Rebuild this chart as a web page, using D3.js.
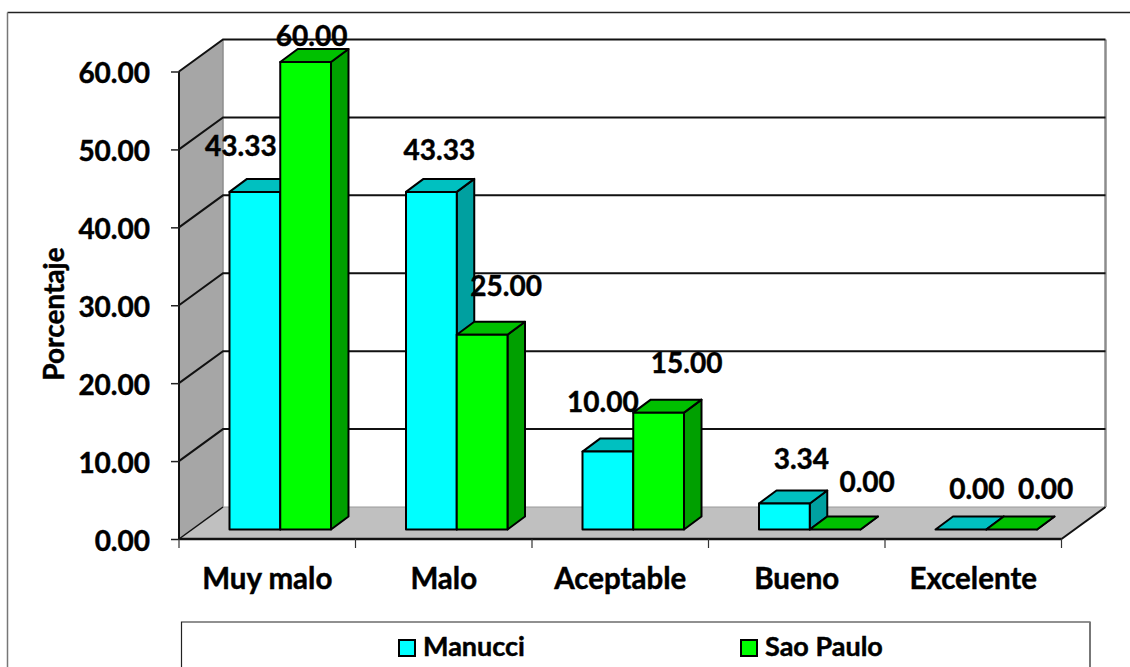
<!DOCTYPE html>
<html>
<head>
<meta charset="utf-8">
<script src="https://cdnjs.cloudflare.com/ajax/libs/d3/7.8.5/d3.min.js"></script>
<style>
  html, body { margin: 0; padding: 0; background: #fff; }
  svg { display: block; }
  text { font-family: Lato, "Noto Sans", sans-serif; font-weight: 700; fill: #000; stroke: #000; stroke-width: 0.45px; }
</style>
</head>
<body>
<svg id="chart" width="1130" height="667"></svg>
<script>
const categories = ["Muy malo", "Malo", "Aceptable", "Bueno", "Excelente"];
const seriesNames = ["Manucci", "Sao Paulo"];
const manucci = [43.33, 43.33, 10.00, 3.34, 0.00];
const saoPaulo = [60.00, 25.00, 15.00, 0.00, 0.00];
const yTicks = [0, 10, 20, 30, 40, 50, 60];

// Data labels were placed by hand around the bars: nudges from each bar's top centre.
const manucciNudge = [[-14, -36], [8, -32], [-5, -40], [17, -34], [16, -31]];
const saoPauloNudge = [[6, -16], [24, -39], [28, -40], [32, -38], [34, -31]];

const palette = {
  Manucci: { front: "#00ffff", top: "#00c0c0", side: "#00a0a0" },
  "Sao Paulo": { front: "#00ff00", top: "#00c000", side: "#00a000" }
};

const svg = d3.select("#chart");
const ink = "#111";

// Pseudo-3D plot box: front plane, and the shift to the back wall.
const plot = { left: 179, right: 1061.5, bottom: 539, top: 71.5 };
const depth = { x: 44, y: -32 };
const barDepth = { x: 17.5, y: -13 };
const barFloorY = 529.5;

const x = d3.scaleBand().domain(categories).range([plot.left, plot.right]);
const y = d3.scaleLinear().domain([0, 60]).range([plot.bottom, plot.top]);
const inner = d3.scaleBand().domain(seriesNames).range([50.5, 152]);
const barHeight = v => y(0) - y(v);

const poly = pts => pts.map(p => p.join(",")).join(" ");

// Outer frame: only the top and left edges are visible.
svg.append("line").attr("x1", 7.5).attr("x2", 1130).attr("y1", 12.5).attr("y2", 12.5)
  .attr("stroke", "#222").attr("stroke-width", 1.5);
svg.append("line").attr("x1", 7.5).attr("x2", 7.5).attr("y1", 12.5).attr("y2", 667)
  .attr("stroke", "#777").attr("stroke-width", 1.5);

// Side wall and floor
const wallTop = y(60), wallBot = y(0);
svg.append("polygon")
  .attr("points", poly([[plot.left, wallTop], [plot.left + depth.x, wallTop + depth.y],
                        [plot.left + depth.x, wallBot + depth.y], [plot.left, wallBot]]))
  .attr("fill", "#a6a6a6");
svg.append("polygon")
  .attr("points", poly([[plot.left, wallBot], [plot.left + depth.x, wallBot + depth.y],
                        [plot.right + depth.x, wallBot + depth.y], [plot.right, wallBot]]))
  .attr("fill", "#c0c0c0");

// Back-wall edges
svg.append("line")
  .attr("x1", plot.left + depth.x).attr("x2", plot.left + depth.x)
  .attr("y1", wallTop + depth.y).attr("y2", wallBot + depth.y)
  .attr("stroke", "#8c8c8c").attr("stroke-width", 1.5);
svg.append("line")
  .attr("x1", plot.right + depth.x).attr("x2", plot.right + depth.x)
  .attr("y1", wallTop + depth.y).attr("y2", wallBot + depth.y)
  .attr("stroke", "#8c8c8c").attr("stroke-width", 2.5);
svg.append("line")
  .attr("x1", plot.left + depth.x).attr("x2", plot.right + depth.x)
  .attr("y1", wallBot + depth.y).attr("y2", wallBot + depth.y)
  .attr("stroke", "#9a9a9a").attr("stroke-width", 1);

// Gridlines run along the back wall and slant down the side wall.
const grid = svg.append("g").attr("fill", "none").attr("stroke", ink).attr("stroke-width", 2);
grid.selectAll("polyline.g").data(yTicks.filter(t => t > 0)).join("polyline")
  .attr("class", "g")
  .attr("points", t => poly([[plot.left, y(t)], [plot.left + depth.x, y(t) + depth.y],
                             [plot.right + depth.x, y(t) + depth.y]]));
grid.append("line")
  .attr("x1", plot.left).attr("y1", y(0))
  .attr("x2", plot.left + depth.x).attr("y2", y(0) + depth.y)
  .attr("stroke-width", 1.5);

// Axes on the front plane
svg.append("line").attr("x1", plot.left).attr("x2", plot.left)
  .attr("y1", y(60)).attr("y2", y(0)).attr("stroke", ink).attr("stroke-width", 2);
svg.append("line").attr("x1", plot.left).attr("x2", plot.right)
  .attr("y1", y(0)).attr("y2", y(0)).attr("stroke", ink).attr("stroke-width", 2.5);
svg.append("line").attr("x1", plot.right).attr("y1", y(0))
  .attr("x2", plot.right + depth.x).attr("y2", y(0) + depth.y)
  .attr("stroke", ink).attr("stroke-width", 2);

const yAxis = d3.axisLeft(y).tickValues(yTicks).tickFormat(d3.format(".2f"))
  .tickSize(8).tickPadding(21);
const yG = svg.append("g").attr("transform", `translate(${plot.left},0)`).call(yAxis);
yG.select(".domain").remove();
yG.selectAll("line").attr("stroke", "#222").attr("stroke-width", 1.5);
yG.selectAll("text").attr("font-size", 28).attr("dy", "0.41em")
  .style("font-family", "Lato, sans-serif").style("font-weight", 700);

// Category ticks sit on the band edges, labels on the band centres.
const edges = categories.map(c => x(c)).concat(plot.right);
svg.append("g").selectAll("line").data(edges).join("line")
  .attr("x1", d => d).attr("x2", d => d)
  .attr("y1", y(0)).attr("y2", y(0) + 9)
  .attr("stroke", "#333").attr("stroke-width", 1.2);
svg.append("g").selectAll("text").data(categories).join("text")
  .attr("x", c => x(c) + x.bandwidth() / 2)
  .attr("y", 589)
  .attr("text-anchor", "middle")
  .attr("font-size", 29.5)
  .text(c => c);

// Axis title
svg.append("text")
  .attr("transform", "translate(64,314) rotate(-90)")
  .attr("text-anchor", "middle")
  .attr("font-size", 28)
  .text("Porcentaje");

// Bars, back to front within each category
const rows = seriesNames.map((name, s) => ({
  name,
  values: s === 0 ? manucci : saoPaulo,
  nudges: s === 0 ? manucciNudge : saoPauloNudge
}));

const barData = [];
categories.forEach((c, i) => rows.forEach(r => barData.push({
  category: c, name: r.name, value: r.values[i], nudge: r.nudges[i]
})));

const bars = svg.append("g").attr("stroke", "#000").attr("stroke-width", 2)
  .attr("stroke-linejoin", "round");

bars.selectAll("g.bar").data(barData).join("g").attr("class", "bar").each(function (d) {
  const g = d3.select(this);
  const colours = palette[d.name];
  const x0 = x(d.category) + inner(d.name);
  const w = inner.bandwidth();
  const yTop = barFloorY - barHeight(d.value);
  const { x: dx, y: dy } = barDepth;

  g.append("polygon")
    .attr("points", poly([[x0 + w, yTop], [x0 + w + dx, yTop + dy],
                          [x0 + w + dx, barFloorY + dy], [x0 + w, barFloorY]]))
    .attr("fill", colours.side);
  g.append("polygon")
    .attr("points", poly([[x0, yTop], [x0 + dx, yTop + dy],
                          [x0 + w + dx, yTop + dy], [x0 + w, yTop]]))
    .attr("fill", colours.top);
  g.append("rect")
    .attr("x", x0).attr("y", yTop)
    .attr("width", w).attr("height", barFloorY - yTop)
    .attr("fill", colours.front);
});

// Value labels sit above all the bars.
svg.append("g").selectAll("text").data(barData).join("text")
  .attr("x", d => x(d.category) + inner(d.name) + inner.bandwidth() / 2 + d.nudge[0])
  .attr("y", d => barFloorY - barHeight(d.value) + d.nudge[1])
  .attr("text-anchor", "middle")
  .attr("font-size", 28)
  .text(d => d3.format(".2f")(d.value));

// Legend box runs off the bottom of the page.
svg.append("path")
  .attr("d", "M181.5,667V622H1090V667")
  .attr("fill", "#fff").attr("stroke", "#222").attr("stroke-width", 1.2);
svg.append("line").attr("x1", 1090).attr("x2", 1090).attr("y1", 622).attr("y2", 667)
  .attr("stroke", "#777").attr("stroke-width", 2);

const legendX = d3.scaleOrdinal().domain(seriesNames).range([399, 741]);
const legend = svg.append("g").selectAll("g").data(seriesNames).join("g")
  .attr("transform", n => `translate(${legendX(n)},640)`);
legend.append("rect")
  .attr("width", 16).attr("height", 16)
  .attr("fill", n => palette[n].front)
  .attr("stroke", "#000").attr("stroke-width", 2);
legend.append("text")
  .attr("x", 24).attr("y", 16)
  .attr("font-size", 27)
  .text(n => n);
</script>
</body>
</html>
